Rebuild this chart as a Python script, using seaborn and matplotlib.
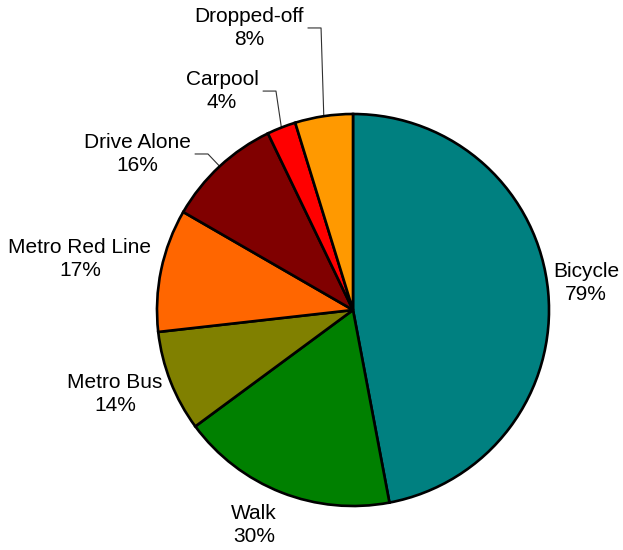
import numpy as np
import matplotlib
matplotlib.use("Agg")
import matplotlib.pyplot as plt
import seaborn as sns

sns.set_theme(style="white")
plt.rcParams['font.family'] = ['Liberation Sans', 'DejaVu Sans']

modes = ["Bicycle", "Walk", "Metro Bus", "Metro Red Line", "Drive Alone", "Carpool", "Dropped-off"]
pct = [79, 30, 14, 17, 16, 4, 8]
colors = ["#008080", "#008000", "#808000", "#FF6600", "#800000", "#FF0000", "#FF9900"]

# label positions in pie-radius units (layout only)
label_xy = [(1.19, 0.138), (-0.505, -1.098), (-1.214, -0.429), (-1.393, 0.260),
            (-1.102, 0.796), (-0.668, 1.117), (-0.531, 1.439)]
# leader lines for small slices: (start, elbow) in pie-radius units
leaders = {4: ((-0.806, 0.796), (-0.740, 0.796)),
           5: ((-0.459, 1.117), (-0.393, 1.117)),
           6: ((-0.230, 1.439), (-0.163, 1.439))}

fig = plt.figure(figsize=(6.23, 5.5), dpi=100)
ax = fig.add_axes([157 / 623, 44 / 550, 392 / 623, 392 / 550])
wedges, _ = ax.pie(pct, colors=colors, startangle=90, counterclock=False, radius=1,
                   wedgeprops=dict(edgecolor="black", linewidth=1.9))
ax.set_xlim(-1, 1)
ax.set_ylim(-1, 1)
ax.axis("off")

for i, (name, v) in enumerate(zip(modes, pct)):
    x, y = label_xy[i]
    ax.text(x, y, f"{name}\n{v}%", ha="center", va="center", fontsize=15,
            linespacing=1.3, color="black")
    if i in leaders:
        w = wedges[i]
        mid = np.deg2rad((w.theta1 + w.theta2) / 2)
        edge = (np.cos(mid), np.sin(mid))
        (sx, sy), (ex, ey) = leaders[i]
        ax.plot([sx, ex, edge[0]], [sy, ey, edge[1]], color="#303030", lw=0.8,
                clip_on=False, zorder=0)

fig.savefig("out.png", dpi=100)
